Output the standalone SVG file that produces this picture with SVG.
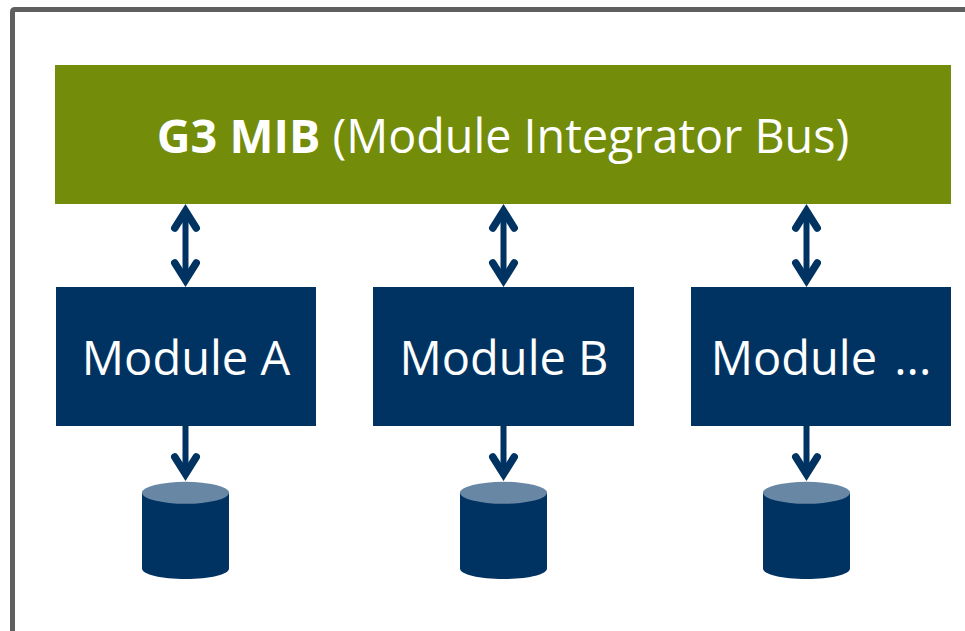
<svg xmlns="http://www.w3.org/2000/svg" width="965" height="631" viewBox="0 0 965 631">
<style>
.mod{fill:#003362}
.lbl{font-family:"Open Sans","Noto Sans",sans-serif;font-size:47px;fill:#fff;text-anchor:middle}
.cb{fill:#003362}
.ct{fill:#6887a5}
.cx{fill:none;stroke:#003362;stroke-width:6}
</style>
<defs>
<marker id="head" markerUnits="userSpaceOnUse" markerWidth="36" markerHeight="36" refX="24.4" refY="18" orient="auto-start-reverse" overflow="visible">
<path d="M7.4 7.300L24.400 18L7.400 28.700" fill="none" stroke="#003362" stroke-width="7.500" stroke-linecap="round" stroke-linejoin="miter" stroke-miterlimit="4"/>
</marker>
</defs>
<rect width="965" height="631" fill="#fff"/>
<path id="frame" d="M12.5 631V12Q12.5 9.500 15 9.500H965" fill="none" stroke="#5f5f5f" stroke-width="5"/>
<g id="bus"><rect x="55" y="65" width="896" height="139" fill="#738c0a"/>
<text class="lbl" x="503" y="153" style="font-size:46.700px"><tspan font-weight="700">G3 MIB</tspan> (Module Integrator Bus)</text></g>
<g id="module-a"><rect class="mod" x="56" y="287" width="260" height="139"/><text class="lbl" x="186" y="375">Module A</text></g>
<g id="module-b"><rect class="mod" x="373" y="287" width="261" height="139"/><text class="lbl" x="504" y="375">Module B</text></g>
<g id="module-c"><rect class="mod" x="691" y="287" width="260" height="139"/><text class="lbl" x="821" y="375" word-spacing="5">Module ...</text></g>
<g id="db-a"><path class="cb" d="M142 493V568.500C142 574.500 161.500 579 185.500 579S229 574.500 229 568.500V493Z"/><ellipse class="ct" cx="185.500" cy="492.800" rx="43.500" ry="11"/></g>
<g id="db-b"><path class="cb" d="M460 493V568.500C460 574.500 479.500 579 503.500 579S547 574.500 547 568.500V493Z"/><ellipse class="ct" cx="503.500" cy="492.800" rx="43.500" ry="11"/></g>
<g id="db-c"><path class="cb" d="M763 493V568.500C763 574.500 782.500 579 806.500 579S850 574.500 850 568.500V493Z"/><ellipse class="ct" cx="806.500" cy="492.800" rx="43.500" ry="11"/></g>
<g id="connectors">
<line class="cx" x1="185.500" y1="211" x2="185.500" y2="280" marker-start="url(#head)" marker-end="url(#head)"/>
<line class="cx" x1="503.500" y1="211" x2="503.500" y2="280" marker-start="url(#head)" marker-end="url(#head)"/>
<line class="cx" x1="806.500" y1="211" x2="806.500" y2="280" marker-start="url(#head)" marker-end="url(#head)"/>
<line class="cx" x1="185.500" y1="426" x2="185.500" y2="474" marker-end="url(#head)"/>
<line class="cx" x1="503.500" y1="426" x2="503.500" y2="474" marker-end="url(#head)"/>
<line class="cx" x1="806.500" y1="426" x2="806.500" y2="474" marker-end="url(#head)"/>
</g>
</svg>
